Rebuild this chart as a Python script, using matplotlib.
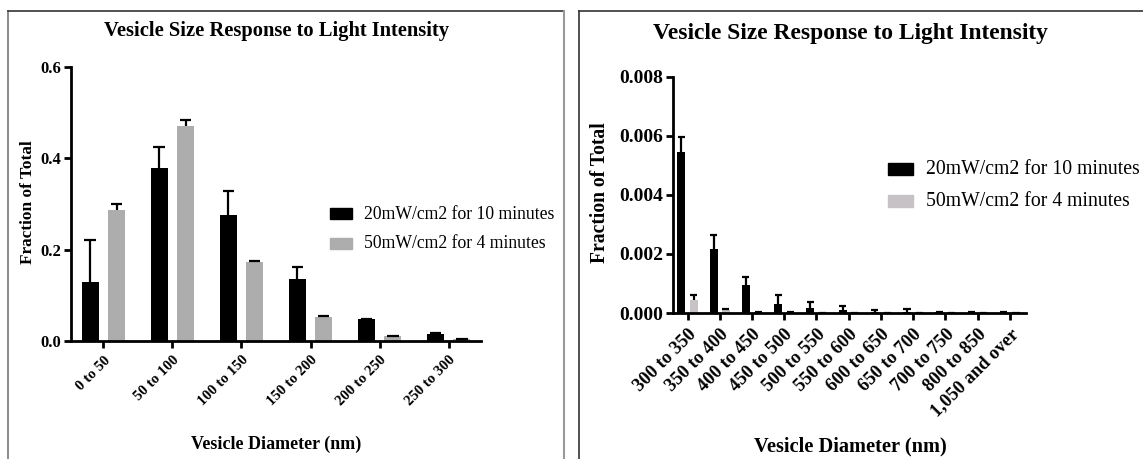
import numpy as np
import matplotlib
matplotlib.use('Agg')
import matplotlib.pyplot as plt
from matplotlib.patches import Rectangle
from matplotlib.lines import Line2D

plt.rcParams['font.family'] = 'Liberation Serif'

# left panel: 0-300 nm bins
bins_small = ["0 to 50", "50 to 100", "100 to 150", "150 to 200", "200 to 250", "250 to 300"]
low_small = [0.129, 0.378, 0.277, 0.135, 0.048, 0.016]
low_small_err = [0.092, 0.046, 0.052, 0.027, 0.001, 0.002]
high_small = [0.286, 0.471, 0.173, 0.052, 0.010, 0.004]
high_small_err = [0.013, 0.014, 0.002, 0.002, 0.002, 0.001]

# right panel: 300+ nm bins
bins_large = ["300 to 350", "350 to 400", "400 to 450", "450 to 500", "500 to 550", "550 to 600",
              "600 to 650", "650 to 700", "700 to 750", "800 to 850", "1,050 and over"]
low_large = [0.00546, 0.00216, 0.00096, 0.00032, 0.00018, 0.00009, 0.00004, 0.00005, 0.00002, 0.00001, 0.00001]
low_large_err = [0.00051, 0.00047, 0.00026, 0.00028, 0.00019, 0.00015, 0.00007, 0.00008, 0.00003, 0.00001, 0.00001]
high_large = [0.00043, 0.00010, 0.00003, 0.00001, 0.00001, 0.00001, 0.0, 0.0, 0.0, 0.0, 0.0]
high_large_err = [0.00019, 0.00005, 0.00002, 0.00001, 0.0, 0.0, 0.0, 0.0, 0.0, 0.0, 0.0]

label_low = "20mW/cm2 for 10 minutes"
label_high = "50mW/cm2 for 4 minutes"
title = "Vesicle Size Response to Light Intensity"

W, H = 1143, 459
fig = plt.figure(figsize=(W / 100, H / 100), dpi=100)


def fx(px):
    return px / W


def fy(py):
    return 1 - py / H


def draw_panel(ax, cats, a, a_err, b, b_err, gray, cap, xlim, ylim, yticks, yfmt, tick_fs, ytick_fs):
    x = np.arange(len(cats))
    off = 0.19
    w = 0.245
    ax.bar(x - off, a, width=w, color='black', zorder=2)
    ax.bar(x + off, b, width=w, color=gray, zorder=2)
    for xs, vals, errs in [(x - off, a, a_err), (x + off, b, b_err)]:
        tops = np.array(vals) + np.array(errs)
        ax.vlines(xs, vals, tops, color='black', lw=1.6, zorder=3)
        ax.hlines(tops, xs - cap, xs + cap, color='black', lw=1.6, zorder=3)
    ax.set_xlim(*xlim)
    ax.set_ylim(*ylim)
    ax.set_yticks(yticks)
    ax.set_yticklabels([yfmt.format(v) for v in yticks], fontweight='bold', fontsize=ytick_fs)
    ax.set_xticks(x)
    ax.set_xticklabels(cats, rotation=45, ha='right', rotation_mode='anchor',
                       fontweight='bold', fontsize=tick_fs)
    for s in ['top', 'right']:
        ax.spines[s].set_visible(False)
    for s in ['left', 'bottom']:
        ax.spines[s].set_linewidth(2)
    ax.tick_params(axis='both', direction='out', length=5, width=2, pad=2)
    ax.tick_params(axis='x', pad=4)
    ax.patch.set_alpha(0)


def draw_legend(x0, rows, patch_w, patch_h, text_x, fs):
    for (yc, color, label) in rows:
        fig.add_artist(Rectangle((fx(x0), fy(yc + patch_h / 2)), patch_w / W, patch_h / H,
                                 color=color, transform=fig.transFigure))
        fig.text(fx(text_x), fy(yc), label, ha='left', va='center', fontsize=fs)


gray_left = '#adadad'
gray_right = '#c6c2c6'

# left panel
ax1 = fig.add_axes([fx(71), fy(341), fx(481 - 71), (341 - 67) / H])
draw_panel(ax1, bins_small, low_small, low_small_err, high_small, high_small_err,
           gray_left, 0.085, (-0.47, 5.47), (0, 0.6), [0.0, 0.2, 0.4, 0.6], "{:.1f}", 10.7, 12)

# right panel
ax2 = fig.add_axes([fx(673), fy(313), fx(1026 - 673), (313 - 77) / H])
draw_panel(ax2, bins_large, low_large, low_large_err, high_large, high_large_err,
           gray_right, 0.11, (-0.45, 10.5), (0, 0.008), [0.0, 0.002, 0.004, 0.006, 0.008], "{:.3f}",
           13.3, 14)

# titles and axis labels
fig.text(fx(276), fy(31), title, ha='center', va='center', fontsize=14.8, fontweight='bold')
fig.text(fx(850), fy(34), title, ha='center', va='center', fontsize=16.9, fontweight='bold')
fig.text(fx(28), fy(202), "Fraction of Total", rotation=90, ha='center', va='center',
         fontsize=12.4, fontweight='bold')
fig.text(fx(600), fy(193), "Fraction of Total", rotation=90, ha='center', va='center',
         fontsize=14.1, fontweight='bold')
fig.text(fx(276), fy(444), "Vesicle Diameter (nm)", ha='center', va='center',
         fontsize=13, fontweight='bold')
fig.text(fx(850), fy(446), "Vesicle Diameter (nm)", ha='center', va='center',
         fontsize=14.7, fontweight='bold')

# legends
draw_legend(330, [(214, 'black', label_low), (243, gray_left, label_high)], 22, 11, 364, 12.7)
draw_legend(888, [(169, 'black', label_low), (201, gray_right, label_high)], 25, 12, 926, 14.2)

# panel frames
fig.add_artist(Line2D([fx(8), fx(8)], [0, fy(11)], color='#777777', lw=1.2))
fig.add_artist(Line2D([fx(8), fx(564)], [fy(11), fy(11)], color='#333333', lw=1.2))
fig.add_artist(Line2D([fx(564), fx(564)], [0, fy(11)], color='#999999', lw=1.5))
fig.add_artist(Line2D([fx(579), fx(579)], [0, fy(11)], color='#333333', lw=1.2))
fig.add_artist(Line2D([fx(579), 1], [fy(11), fy(11)], color='#333333', lw=1.2))

fig.savefig('out.png', dpi=100)
